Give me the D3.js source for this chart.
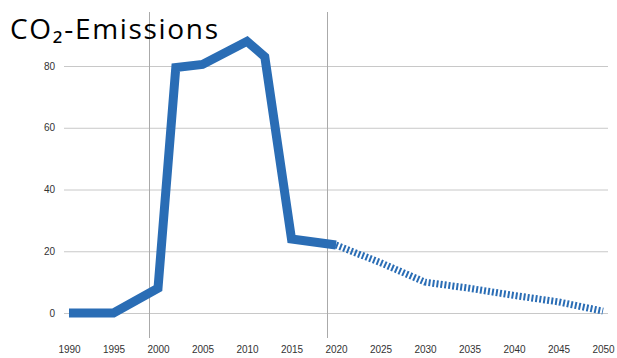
<!DOCTYPE html>
<html><head><meta charset="utf-8">
<script src="https://cdn.jsdelivr.net/npm/d3@7"></script>
<style>html,body{margin:0;padding:0;background:#fff;}</style>
</head><body>
<svg id="chart" width="617" height="358"></svg>
<script>
const title = "CO₂-Emissions";
const solidYears = [1990, 1995, 2000, 2002, 2005, 2010, 2012, 2015, 2020];
const solidValues = [0, 0, 8, 79.5, 80.5, 88, 83, 24, 22];
const dashedYears = [2020, 2025, 2030, 2035, 2040, 2045, 2050];
const dashedValues = [22, 16.3, 10, 8, 5.7, 3.6, 0.6];
const xTicks = [1990,1995,2000,2005,2010,2015,2020,2025,2030,2035,2040,2045,2050];
const yTicks = [0, 20, 40, 60, 80];
const markerYears = [1999, 2019];

const svg = d3.select("#chart");
const x = d3.scaleLinear().domain([1990, 2050]).range([69, 603]);
const y = d3.scaleLinear().domain([0, 80]).range([313, 66]);

// horizontal grid
const yAxis = d3.axisLeft(y).tickValues(yTicks).tickSize(-(608 - 64)).tickPadding(9);
const gy = svg.append("g").attr("transform", "translate(64,0)").call(yAxis);
gy.select(".domain").remove();
gy.selectAll(".tick line").attr("stroke", "#c8c8c8").attr("stroke-width", 1);
gy.selectAll(".tick text").attr("font-family", "Liberation Sans, Arial, sans-serif")
  .attr("font-size", 10).attr("fill", "#333");

// vertical markers
svg.append("g").selectAll("line").data(markerYears).join("line")
  .attr("x1", d => Math.round(x(d)) + 0.5).attr("x2", d => Math.round(x(d)) + 0.5)
  .attr("y1", 12).attr("y2", 338)
  .attr("stroke", "#aaa").attr("stroke-width", 1);

// x axis labels
const xAxis = d3.axisBottom(x).tickValues(xTicks).tickFormat(d3.format("d")).tickSize(0).tickPadding(0);
const gx = svg.append("g").attr("transform", "translate(0,346)").call(xAxis);
gx.select(".domain").remove();
gx.selectAll(".tick text").attr("font-family", "Liberation Sans, Arial, sans-serif")
  .attr("font-size", 10).attr("fill", "#333");

const line = d3.line().x(d => x(d[0])).y(d => y(d[1]));
const blue = "#2a6db5";

svg.append("path")
  .datum(dashedYears.map((yr, i) => [yr, dashedValues[i]]))
  .attr("d", line).attr("fill", "none").attr("stroke", blue)
  .attr("stroke-width", 7).attr("stroke-dasharray", "2,2");

svg.append("path")
  .datum(solidYears.map((yr, i) => [yr, solidValues[i]]))
  .attr("d", line).attr("fill", "none").attr("stroke", blue)
  .attr("stroke-width", 9).attr("stroke-linejoin", "miter").attr("stroke-miterlimit", 10);

svg.append("text").attr("x", 10).attr("y", 39)
  .attr("font-family", "Open Sans, sans-serif").attr("font-size", 28).attr("fill", "#000")
  .attr("textLength", 208).attr("lengthAdjust", "spacing")
  .text(title);
</script>
</body></html>
